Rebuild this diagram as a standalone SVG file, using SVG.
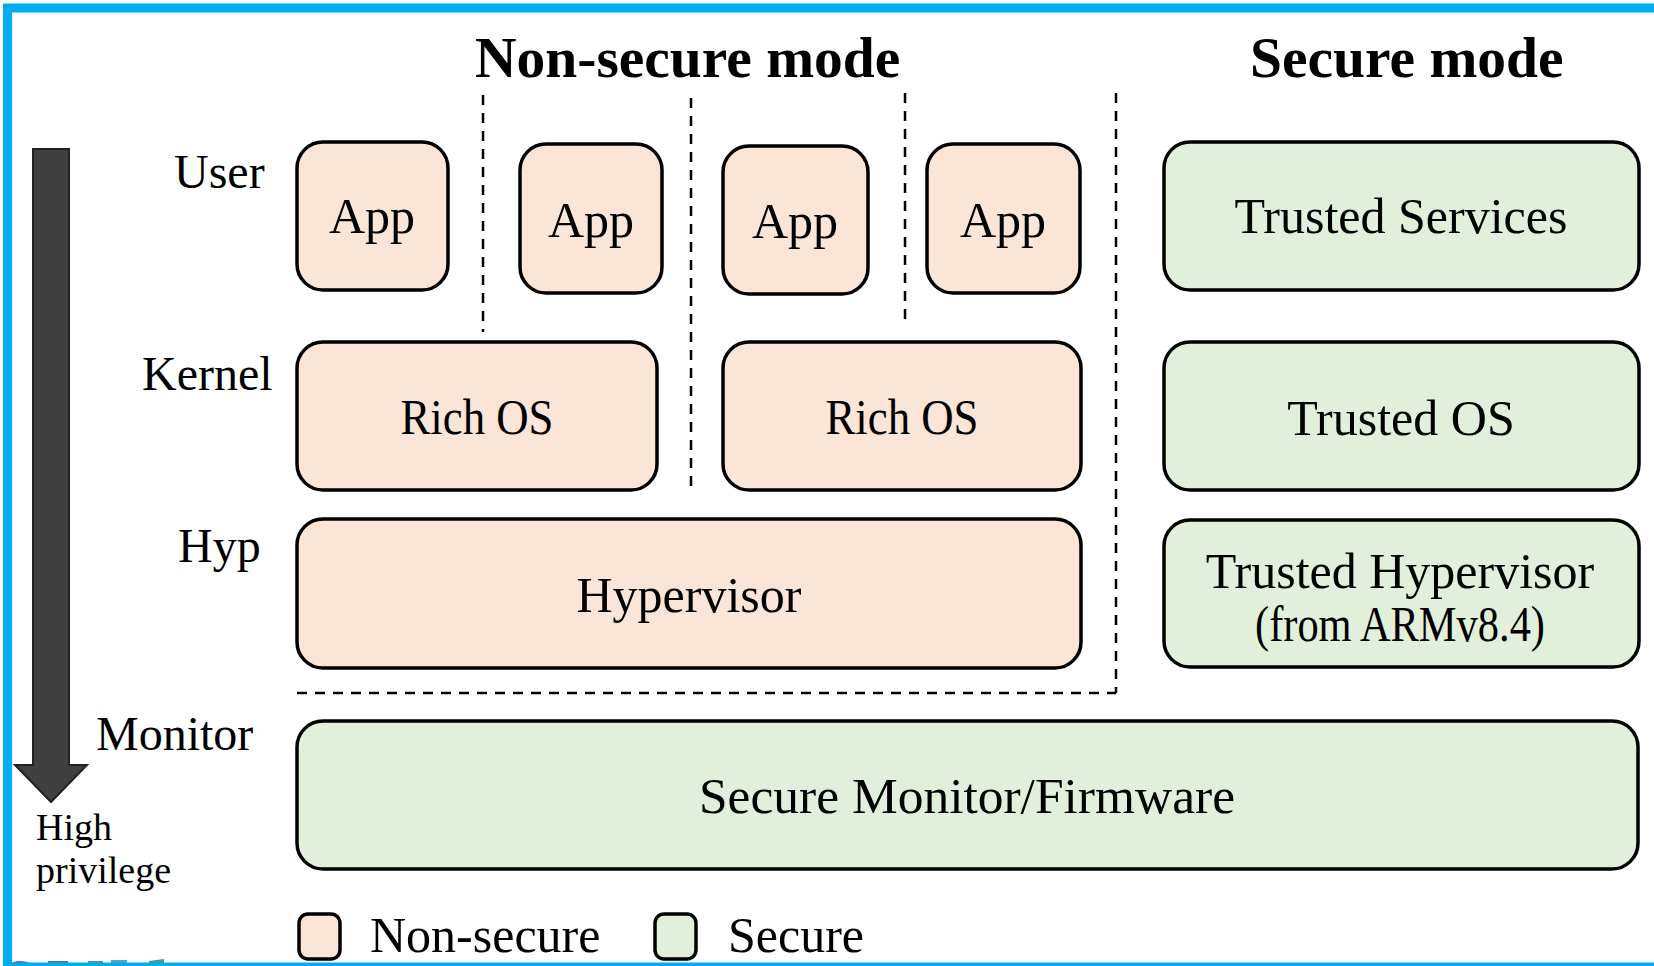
<svg xmlns="http://www.w3.org/2000/svg" width="1654" height="966" viewBox="0 0 1654 966">
<style>
  .ns { fill: #FBE5D6; stroke: #000; stroke-width: 3.5; }
  .sec { fill: #E2EFDA; stroke: #000; stroke-width: 3.5; }
  .t { font-family: "Liberation Serif", "DejaVu Serif", serif; fill: #000; }
  .box { font-size: 50px; text-anchor: middle; }
  .lbl { font-size: 48px; }
  .title { font-size: 57.5px; font-weight: bold; }
  .dash { stroke: #000; stroke-width: 2.5; stroke-dasharray: 10 8; fill: none; }
</style>
<rect x="0" y="0" width="1654" height="966" fill="#fff"/>

<!-- logo fragment -->
<g id="logo-fragment">
  <path d="M5,966 Q18,957 33,964 L33,966 Z" fill="#5B64B0"/>
  <rect x="48" y="961" width="20" height="5" fill="#4F72B2"/>
  <rect x="88" y="961" width="15" height="5" fill="#4C93BE"/>
  <rect x="111" y="960" width="16" height="6" fill="#4AA8C0"/>
  <path d="M149,961 L164,959 L164,966 L149,966 Z" fill="#3F9B9E"/>
</g>

<!-- frame -->
<rect x="7.5" y="8" width="1720" height="959" fill="none" stroke="#00AEEF" stroke-width="9"/>

<!-- titles -->
<text class="t title" x="475" y="77">Non-secure mode</text>
<text class="t title" x="1250" y="77">Secure mode</text>

<!-- level labels -->
<text class="t lbl" x="174" y="188">User</text>
<text class="t lbl" x="142" y="390" font-size="49">Kernel</text>
<text class="t lbl" x="178" y="562">Hyp</text>
<text class="t lbl" x="96" y="750" font-size="49.5">Monitor</text>

<!-- privilege arrow -->
<g id="privilege-arrow">
  <path d="M33,149 L69,149 L69,765 L87,765 L51,802 L15,765 L33,765 Z" fill="#404040" stroke="#222" stroke-width="2"/>
  <text class="t" x="36" y="840" font-size="38">High</text>
  <text class="t" x="36" y="883" font-size="38">privilege</text>
</g>

<!-- connectors (separator lines) -->
<g id="separators">
  <line class="dash" x1="483" y1="95" x2="483" y2="332"/>
  <line class="dash" x1="691" y1="98" x2="691" y2="487"/>
  <line class="dash" x1="905" y1="93" x2="905" y2="327"/>
  <line class="dash" x1="1116" y1="93" x2="1116" y2="693"/>
  <line class="dash" x1="297" y1="693" x2="1116" y2="693"/>
</g>

<!-- nodes -->
<g id="app1"><rect class="ns" x="297" y="142" width="151" height="148" rx="26"/><text class="t box" x="372" y="233">App</text></g>
<g id="app2"><rect class="ns" x="520" y="144" width="142" height="149" rx="26"/><text class="t box" x="591" y="237">App</text></g>
<g id="app3"><rect class="ns" x="723" y="146" width="145" height="148" rx="26"/><text class="t box" x="795" y="238">App</text></g>
<g id="app4"><rect class="ns" x="927" y="144" width="153" height="149" rx="26"/><text class="t box" x="1003" y="237">App</text></g>

<g id="richos1"><rect class="ns" x="297" y="342" width="360" height="148" rx="26"/><text class="t box" x="477" y="434" textLength="153" lengthAdjust="spacingAndGlyphs">Rich OS</text></g>
<g id="richos2"><rect class="ns" x="723" y="342" width="358" height="148" rx="26"/><text class="t box" x="902" y="434" textLength="153" lengthAdjust="spacingAndGlyphs">Rich OS</text></g>

<g id="hypervisor"><rect class="ns" x="297" y="519" width="784" height="149" rx="26"/><text class="t box" x="689" y="612">Hypervisor</text></g>

<g id="trusted-services"><rect class="sec" x="1164" y="142" width="475" height="148" rx="26"/><text class="t box" x="1401" y="233">Trusted Services</text></g>
<g id="trusted-os"><rect class="sec" x="1164" y="342" width="475" height="148" rx="26"/><text class="t box" x="1401" y="435">Trusted OS</text></g>
<g id="trusted-hypervisor"><rect class="sec" x="1164" y="520" width="475" height="147" rx="26"/>
  <text class="t box" x="1400" y="588">Trusted Hypervisor</text>
  <text class="t box" x="1400" y="641" font-size="40" textLength="290" lengthAdjust="spacingAndGlyphs">(from ARMv8.4)</text></g>

<g id="secure-monitor"><rect class="sec" x="297" y="721" width="1341" height="148" rx="26"/><text class="t box" x="967" y="813" textLength="536" lengthAdjust="spacingAndGlyphs">Secure Monitor/Firmware</text></g>

<!-- legend -->
<g id="legend-nonsecure"><rect class="ns" x="299" y="914" width="41" height="45" rx="9"/><text class="t" x="370" y="952" font-size="50">Non-secure</text></g>
<g id="legend-secure"><rect class="sec" x="655" y="914" width="41" height="45" rx="9"/><text class="t" x="728" y="952" font-size="50">Secure</text></g>
</svg>
